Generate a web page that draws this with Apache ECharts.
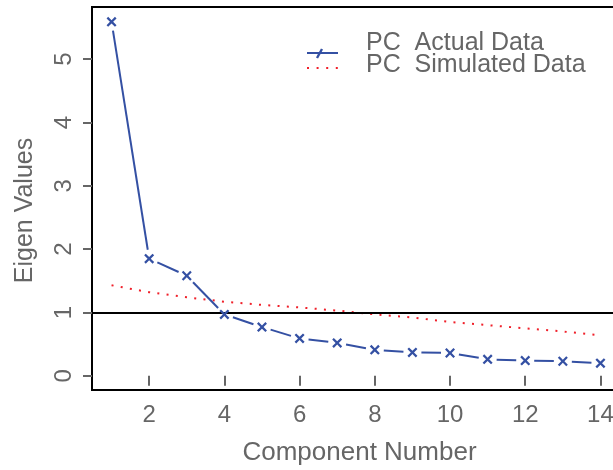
<!DOCTYPE html>
<html>
<head>
<meta charset="utf-8">
<script src="https://cdn.jsdelivr.net/npm/echarts@6/dist/echarts.min.js"></script>
<style>
  html, body { margin: 0; padding: 0; background: #fff; }
  #chart { width: 613px; height: 470px; }
</style>
</head>
<body>
<div id="chart"></div>
<script>
// 主成分编号和特征值
const components = [1, 2, 3, 4, 5, 6, 7, 8, 9, 10, 11, 12, 13, 14];
const actualData = [5.59, 1.85, 1.58, 0.97, 0.77, 0.59, 0.52, 0.41, 0.37, 0.36, 0.26, 0.24, 0.23, 0.2];
const simulatedData = [1.43, 1.32, 1.24, 1.17, 1.12, 1.08, 1.03, 0.97, 0.92, 0.85, 0.8, 0.75, 0.7, 0.64];
const xTicks = [2, 4, 6, 8, 10, 12, 14];
const yTicks = [0, 1, 2, 3, 4, 5];
const cutoff = 1;

const blue = "#3450a3";
const red = "#f0202a";
const grey = "#666";
const font = "'Liberation Sans', Arial, Helvetica, sans-serif";
// 实心 x 形状
const crossPath = "path://M0,1.6L1.6,0L5,3.4L8.4,0L10,1.6L6.6,5L10,8.4L8.4,10L5,6.6L1.6,10L0,8.4L3.4,5Z";
// 线段两端留白（像素），模仿 R 的 type="b"
const gap = 9;

const pairs = (ys) => components.map((c, i) => [c, ys[i]]);
// 相邻两点组成一段
const segments = components.slice(0, -1).map((c, i) => [c, actualData[i], components[i + 1], actualData[i + 1]]);

function renderSegment(params, api) {
  const a = api.coord([api.value(0), api.value(1)]);
  const b = api.coord([api.value(2), api.value(3)]);
  const dx = b[0] - a[0];
  const dy = b[1] - a[1];
  const len = Math.sqrt(dx * dx + dy * dy);
  if (len <= gap * 2) return null;
  const ux = dx / len;
  const uy = dy / len;
  return {
    type: "line",
    shape: {
      x1: a[0] + ux * gap,
      y1: a[1] + uy * gap,
      x2: b[0] - ux * gap,
      y2: b[1] - uy * gap,
    },
    style: { stroke: blue, lineWidth: 2 },
  };
}

const chart = echarts.init(document.getElementById("chart"));
const option = {
  animation: false,
  grid: {
    left: 92,
    top: 7,
    width: 528,
    height: 383,
    show: true,
    borderColor: "#000",
    borderWidth: 2,
    backgroundColor: "transparent",
    outerBoundsMode: "none",
    containLabel: false,
  },
  xAxis: {
    type: "value",
    min: 0.48,
    max: 14.52,
    name: "Component Number",
    nameLocation: "middle",
    nameGap: 50,
    nameTextStyle: { color: grey, fontSize: 26, fontFamily: font, padding: [0, 0, 0, 7] },
    axisLine: { show: false },
    splitLine: { show: false },
    axisTick: {
      show: true,
      length: 10,
      customValues: xTicks,
      lineStyle: { color: grey, width: 2 },
    },
    axisLabel: {
      customValues: xTicks,
      color: grey,
      fontSize: 24,
      fontFamily: font,
      margin: 13,
    },
  },
  yAxis: {
    type: "value",
    min: -0.224,
    max: 5.824,
    name: "Eigen Values",
    nameLocation: "middle",
    nameGap: 54,
    nameTextStyle: { color: grey, fontSize: 25, fontFamily: font, padding: [0, 24, 0, 0] },
    axisLine: { show: false },
    splitLine: { show: false },
    axisTick: {
      show: true,
      length: 9,
      customValues: yTicks,
      lineStyle: { color: grey, width: 2 },
    },
    axisLabel: {
      customValues: yTicks,
      color: grey,
      fontSize: 24,
      fontFamily: font,
      rotate: 90,
      margin: 16,
    },
  },
  graphic: [
    // 图例
    {
      type: "line",
      shape: { x1: 307, y1: 53, x2: 338, y2: 53 },
      style: { stroke: blue, lineWidth: 2 },
    },
    {
      type: "line",
      shape: { x1: 317, y1: 58, x2: 322, y2: 49 },
      style: { stroke: blue, lineWidth: 2.4 },
    },
    {
      type: "line",
      shape: { x1: 307, y1: 68, x2: 339, y2: 68 },
      style: { stroke: red, lineWidth: 2, lineDash: [2, 7.6] },
    },
    {
      type: "text",
      x: 366,
      y: 43,
      style: { text: "PC  Actual Data", fill: grey, fontSize: 25, fontFamily: font, verticalAlign: "middle" },
    },
    {
      type: "text",
      x: 366,
      y: 65,
      style: { text: "PC  Simulated Data", fill: grey, fontSize: 25, fontFamily: font, verticalAlign: "middle" },
    },
  ],
  series: [
    {
      name: "Simulated Data",
      type: "line",
      data: pairs(simulatedData),
      symbol: "none",
      lineStyle: { color: red, width: 2, type: [2, 7.3], cap: "butt" },
      z: 2,
    },
    {
      name: "Actual Data",
      type: "custom",
      data: segments,
      encode: { x: [0, 2], y: [1, 3] },
      renderItem: renderSegment,
      silent: true,
      z: 3,
    },
    {
      name: "cutoff",
      type: "line",
      data: [],
      markLine: {
        silent: true,
        symbol: "none",
        label: { show: false },
        lineStyle: { color: "#000", width: 2, type: "solid" },
        data: [{ yAxis: cutoff }],
      },
      z: 11,
    },
    {
      name: "Actual Points",
      type: "scatter",
      data: pairs(actualData),
      symbol: crossPath,
      symbolSize: 10,
      itemStyle: { color: blue, opacity: 1 },
      z: 12,
    },
  ],
};
chart.setOption(option);
</script>
</body>
</html>
